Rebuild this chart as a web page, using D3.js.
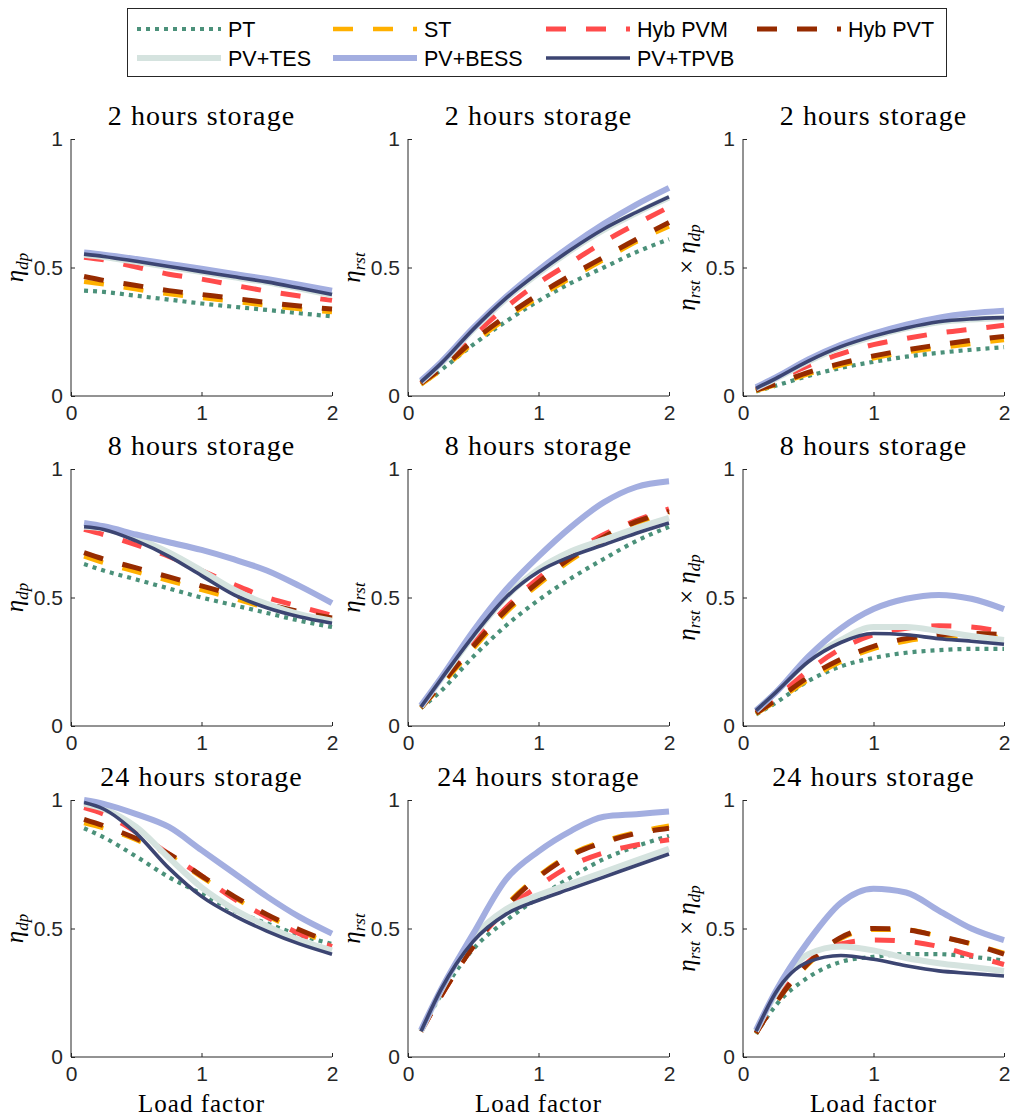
<!DOCTYPE html>
<meta charset="utf-8">
<script src="https://d3js.org/d3.v7.min.js"></script>
<style>
  body { margin: 0; background: #fff; }
</style>
<div id="chart"></div>
<script>

// load factor grid (x values)
var loadFactor = [0.1, 0.25, 0.5, 0.75, 1, 1.25, 1.5, 1.75, 2];

// series in legend / draw order
var seriesNames = ["PT", "ST", "Hyb PVM", "Hyb PVT", "PV+TES", "PV+BESS", "PV+TPVB"];
var seriesColors = ["#4b917a", "#ffb000", "#ff4b4b", "#962b00", "#d5e3df", "#a3aee0", "#3c4572"];
var seriesWidths = [4.2, 4.5, 5, 5, 6, 6, 3.6];
var seriesDash = ["4,5", "20,20", "20,20", "20,20", null, null, null];

var storageTitles = ["2 hours storage", "8 hours storage", "24 hours storage"];
var xTicks = [0, 1, 2];
var yTicks = [0, 0.5, 1];

// 2 hours storage  (rows = series, in seriesNames order)
var dp2h = [
  [0.41, 0.405, 0.39, 0.375, 0.36, 0.347, 0.335, 0.322, 0.31],
  [0.445, 0.435, 0.415, 0.397, 0.382, 0.368, 0.352, 0.338, 0.327],
  [0.54, 0.53, 0.502, 0.474, 0.455, 0.431, 0.408, 0.389, 0.372],
  [0.465, 0.45, 0.43, 0.41, 0.395, 0.38, 0.364, 0.35, 0.338],
  [0.55, 0.541, 0.522, 0.502, 0.482, 0.462, 0.442, 0.418, 0.393],
  [0.558, 0.55, 0.533, 0.514, 0.495, 0.475, 0.455, 0.433, 0.41],
  [0.552, 0.543, 0.524, 0.504, 0.484, 0.464, 0.444, 0.42, 0.395]
];
var rst2h = [
  [0.045, 0.1, 0.2, 0.29, 0.37, 0.44, 0.5, 0.56, 0.61],
  [0.045, 0.1, 0.205, 0.3, 0.385, 0.46, 0.53, 0.6, 0.66],
  [0.05, 0.115, 0.235, 0.345, 0.44, 0.52, 0.6, 0.67, 0.735],
  [0.05, 0.105, 0.215, 0.31, 0.395, 0.47, 0.54, 0.61, 0.675],
  [0.055, 0.124, 0.258, 0.377, 0.477, 0.567, 0.646, 0.712, 0.772],
  [0.06, 0.13, 0.265, 0.385, 0.49, 0.585, 0.67, 0.745, 0.81],
  [0.055, 0.125, 0.26, 0.38, 0.48, 0.57, 0.65, 0.715, 0.775]
];
var prod2h = [
  [0.018, 0.04, 0.078, 0.109, 0.133, 0.153, 0.168, 0.18, 0.19],
  [0.02, 0.043, 0.085, 0.119, 0.147, 0.17, 0.187, 0.203, 0.218],
  [0.027, 0.061, 0.118, 0.164, 0.2, 0.224, 0.245, 0.26, 0.275],
  [0.023, 0.047, 0.092, 0.127, 0.156, 0.179, 0.199, 0.217, 0.232],
  [0.03, 0.067, 0.134, 0.19, 0.231, 0.263, 0.287, 0.298, 0.303],
  [0.034, 0.072, 0.142, 0.199, 0.243, 0.278, 0.305, 0.322, 0.332],
  [0.03, 0.068, 0.136, 0.192, 0.233, 0.265, 0.289, 0.3, 0.305]
];

// 8 hours storage
var dp8h = [
  [0.63, 0.605, 0.57, 0.535, 0.5, 0.47, 0.44, 0.41, 0.385],
  [0.66, 0.635, 0.6, 0.565, 0.53, 0.495, 0.46, 0.435, 0.415],
  [0.765, 0.745, 0.705, 0.66, 0.605, 0.55, 0.5, 0.465, 0.43],
  [0.675, 0.65, 0.615, 0.58, 0.545, 0.51, 0.475, 0.445, 0.42],
  [0.775, 0.768, 0.73, 0.675, 0.605, 0.53, 0.475, 0.435, 0.41],
  [0.79, 0.777, 0.745, 0.715, 0.685, 0.648, 0.605, 0.545, 0.478],
  [0.775, 0.765, 0.72, 0.66, 0.585, 0.51, 0.46, 0.425, 0.4]
];
var rst8h = [
  [0.07, 0.135, 0.27, 0.39, 0.49, 0.575, 0.65, 0.72, 0.775],
  [0.07, 0.155, 0.3, 0.44, 0.55, 0.645, 0.725, 0.785, 0.83],
  [0.075, 0.165, 0.32, 0.46, 0.575, 0.67, 0.745, 0.8, 0.845],
  [0.072, 0.16, 0.31, 0.45, 0.56, 0.655, 0.735, 0.795, 0.835],
  [0.075, 0.18, 0.35, 0.5, 0.61, 0.68, 0.725, 0.77, 0.81],
  [0.08, 0.185, 0.37, 0.53, 0.66, 0.775, 0.87, 0.93, 0.952],
  [0.075, 0.18, 0.35, 0.5, 0.6, 0.66, 0.705, 0.75, 0.79]
];
var prod8h = [
  [0.045, 0.09, 0.175, 0.232, 0.265, 0.285, 0.295, 0.3, 0.3],
  [0.047, 0.095, 0.18, 0.25, 0.3, 0.33, 0.345, 0.348, 0.345],
  [0.055, 0.11, 0.215, 0.3, 0.355, 0.38, 0.39, 0.385, 0.365],
  [0.05, 0.1, 0.19, 0.26, 0.31, 0.34, 0.355, 0.36, 0.355],
  [0.06, 0.13, 0.255, 0.335, 0.385, 0.385, 0.37, 0.35, 0.335],
  [0.06, 0.13, 0.27, 0.38, 0.455, 0.495, 0.51, 0.495, 0.455],
  [0.06, 0.13, 0.25, 0.325, 0.36, 0.355, 0.34, 0.33, 0.318]
];

// 24 hours storage
var dp24h = [
  [0.89, 0.855, 0.78, 0.7, 0.635, 0.57, 0.52, 0.475, 0.44],
  [0.91, 0.89, 0.845, 0.785, 0.7, 0.62, 0.55, 0.49, 0.44],
  [0.97, 0.945, 0.875, 0.79, 0.705, 0.615, 0.545, 0.48, 0.43],
  [0.925, 0.9, 0.85, 0.79, 0.705, 0.625, 0.555, 0.495, 0.445],
  [0.985, 0.965, 0.895, 0.775, 0.66, 0.575, 0.51, 0.455, 0.415],
  [1.0, 0.985, 0.945, 0.895, 0.805, 0.715, 0.625, 0.545, 0.48],
  [0.99, 0.965, 0.87, 0.735, 0.625, 0.55, 0.49, 0.44, 0.4]
];
var rst24h = [
  [0.1, 0.24, 0.42, 0.53, 0.62, 0.7, 0.77, 0.82, 0.86],
  [0.1, 0.235, 0.43, 0.59, 0.705, 0.79, 0.84, 0.875, 0.9],
  [0.1, 0.235, 0.43, 0.57, 0.665, 0.745, 0.795, 0.825, 0.845],
  [0.1, 0.235, 0.43, 0.585, 0.7, 0.785, 0.835, 0.87, 0.89],
  [0.1, 0.255, 0.465, 0.575, 0.63, 0.675, 0.72, 0.765, 0.81],
  [0.105, 0.26, 0.48, 0.69, 0.8, 0.88, 0.935, 0.945, 0.955],
  [0.1, 0.26, 0.45, 0.555, 0.61, 0.655, 0.7, 0.745, 0.79]
];
var prod24h = [
  [0.09, 0.2, 0.31, 0.37, 0.39, 0.4, 0.4, 0.39, 0.375],
  [0.092, 0.21, 0.36, 0.46, 0.495, 0.495, 0.47, 0.44, 0.405],
  [0.095, 0.215, 0.37, 0.44, 0.455, 0.45, 0.43, 0.395, 0.36],
  [0.093, 0.21, 0.365, 0.465, 0.5, 0.495, 0.47, 0.44, 0.4],
  [0.1, 0.245, 0.4, 0.43, 0.415, 0.385, 0.365, 0.35, 0.335],
  [0.105, 0.255, 0.45, 0.6, 0.655, 0.64, 0.57, 0.5, 0.455],
  [0.1, 0.25, 0.37, 0.395, 0.38, 0.355, 0.335, 0.325, 0.315]
];

var grid = [
  [dp2h, rst2h, prod2h],
  [dp8h, rst8h, prod8h],
  [dp24h, rst24h, prod24h]
];

// layout
var W = 1010, H = 1116;
var colLeft = [71, 408, 743];
var rowTop = [139, 469, 800];
var pw = 261, ph = 257;
var axisColor = "#262626";
var sans = "'Liberation Sans', Arial, sans-serif";
var serif = "'Liberation Serif', 'Times New Roman', serif";

var svg = d3.select("#chart")
  .append("svg")
    .attr("width", W)
    .attr("height", H);

var x = d3.scaleLinear().domain([0, 2]).range([0, pw]);
var y = d3.scaleLinear().domain([0, 1]).range([ph, 0]);

var line = d3.line()
  .x(function (d) { return x(d[0]); })
  .y(function (d) { return y(d[1]); })
  .curve(d3.curveMonotoneX);

// y label pieces per column: [text, isSub]
var yLabels = [
  [["η", false], ["dp", true]],
  [["η", false], ["rst", true]],
  [["η", false], ["rst", true], [" × ", false], ["η", false], ["dp", true]]
];

grid.forEach(function (row, r) {
  row.forEach(function (panel, c) {
    var g = svg.append("g")
      .attr("transform", "translate(" + colLeft[c] + "," + rowTop[r] + ")");

    // title
    g.append("text")
      .attr("x", pw / 2)
      .attr("y", -14)
      .attr("text-anchor", "middle")
      .style("font-family", serif)
      .style("font-size", "28px")
      .style("letter-spacing", "1.1px")
      .style("fill", "#000")
      .text(storageTitles[r]);

    // lines
    panel.forEach(function (vals, s) {
      var pts = loadFactor.map(function (lf, i) { return [lf, vals[i]]; });
      g.append("path")
        .datum(pts)
        .attr("d", line)
        .attr("fill", "none")
        .attr("stroke", seriesColors[s])
        .attr("stroke-width", seriesWidths[s])
        .attr("stroke-dasharray", seriesDash[s])
        .attr("stroke-linejoin", "round");
    });

    // axes
    var xAxis = d3.axisBottom(x).tickValues(xTicks).tickSize(-4).tickPadding(9)
      .tickFormat(d3.format("d"));
    var yAxis = d3.axisLeft(y).tickValues(yTicks).tickSize(-4).tickPadding(8)
      .tickFormat(function (d) { return d === 0.5 ? "0.5" : d3.format("d")(d); });

    var gx = g.append("g").attr("transform", "translate(0," + ph + ")").call(xAxis);
    var gy = g.append("g").call(yAxis);
    [gx, gy].forEach(function (a) {
      a.select(".domain").attr("stroke", axisColor).attr("stroke-width", 1)
        .attr("d", a === gx ? "M0,0H" + pw : "M0," + ph + "V0");
      a.selectAll(".tick line").attr("stroke", axisColor);
      a.selectAll(".tick text")
        .style("font-family", sans)
        .style("font-size", "21px")
        .style("fill", axisColor);
    });

    // y label
    var lab = g.append("text")
      .attr("transform", "translate(-48," + (ph / 2) + ") rotate(-90)")
      .attr("text-anchor", "middle")
      .style("font-family", serif)
      .style("font-style", "italic")
      .style("font-size", "25px")
      .style("fill", "#000");
    var shifted = false;
    yLabels[c].forEach(function (p) {
      var t = lab.append("tspan").text(p[0]);
      if (p[1]) {
        t.attr("dy", 5).style("font-size", "17px");
        shifted = true;
      } else {
        if (shifted) { t.attr("dy", -5); shifted = false; }
        if (p[0] === " × ") t.style("font-style", "normal");
      }
    });

    // x label on bottom row
    if (r === 2) {
      g.append("text")
        .attr("x", pw / 2)
        .attr("y", ph + 55)
        .attr("text-anchor", "middle")
        .style("font-family", serif)
        .style("font-size", "25px")
        .style("letter-spacing", "1px")
        .style("fill", "#000")
        .text("Load factor");
    }
  });
});

// legend
var legend = svg.append("g");
legend.append("rect")
  .attr("x", 127.5).attr("y", 8.5)
  .attr("width", 819).attr("height", 68)
  .attr("fill", "#fff")
  .attr("stroke", axisColor)
  .attr("stroke-width", 1);

var legCols = [137, 333, 546, 757];
var legRows = [29, 58];
seriesNames.forEach(function (name, s) {
  var col = s < 4 ? s : s - 4;
  var row = s < 4 ? 0 : 1;
  var lx = legCols[col], ly = legRows[row];
  legend.append("line")
    .attr("x1", lx).attr("x2", lx + 84)
    .attr("y1", ly).attr("y2", ly)
    .attr("stroke", seriesColors[s])
    .attr("stroke-width", seriesWidths[s])
    .attr("stroke-dasharray", seriesDash[s]);
  legend.append("text")
    .attr("x", lx + 91)
    .attr("y", ly + 8)
    .style("font-family", sans)
    .style("font-size", "21.5px")
    .style("fill", "#000")
    .text(name);
});

</script>
